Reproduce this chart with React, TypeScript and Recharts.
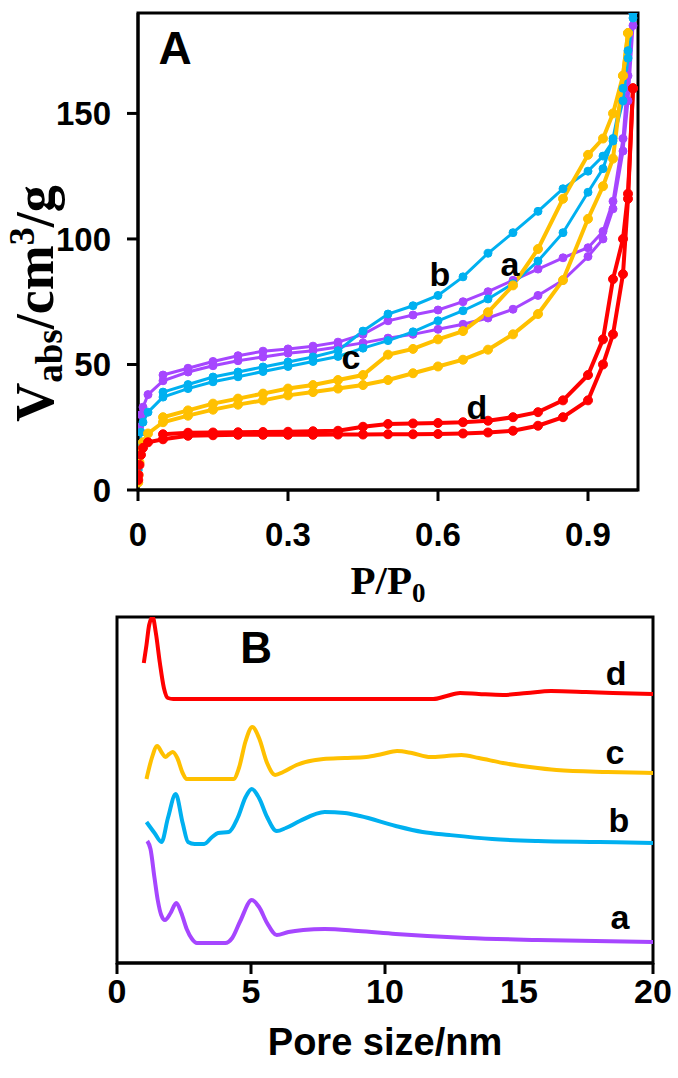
import React from "react";
import {
  LineChart,
  Line,
  XAxis,
  YAxis,
  ReferenceArea,
  ReferenceDot,
} from "recharts";

const SANS = "'Liberation Sans', Arial, sans-serif";
const SERIF = "'Liberation Serif', 'Times New Roman', serif";

const PURPLE = "#A646FF";
const BLUE = "#00B0F0";
const YELLOW = "#FFC000";
const RED = "#FF0000";

// ---- panel A: N2 isotherms (P/P0 vs adsorbed volume) ----
const adsP = [0.0005, 0.001, 0.003, 0.006, 0.01, 0.02, 0.05, 0.1, 0.15, 0.2, 0.25, 0.3, 0.35, 0.4, 0.45, 0.5, 0.55, 0.6, 0.65, 0.7, 0.75, 0.8, 0.85, 0.9, 0.93, 0.95, 0.97, 0.98, 0.99];
const desP = [0.99, 0.98, 0.97, 0.95, 0.93, 0.9, 0.85, 0.8, 0.75, 0.7, 0.65, 0.6, 0.55, 0.5, 0.45, 0.4, 0.35, 0.3, 0.25, 0.2, 0.15, 0.1, 0.05];

const aAds = [12, 18, 25, 30, 33, 38, 43.5, 47, 49.5, 51.5, 53, 54.5, 55.5, 57, 58.6, 60.5, 62, 64, 66, 68.5, 72, 77.5, 83.5, 93, 100, 112, 135, 155, 185];
const aDes = [190, 165, 140, 115, 103, 96.5, 92.5, 88, 83.5, 79, 75, 71.7, 69.7, 67.4, 62, 58.9, 57.3, 56.2, 55.3, 53.5, 51.2, 48.5, 45.8];

const bAds = [8, 12, 18, 23, 27, 31, 37, 40.4, 43.1, 45.1, 47.2, 49.2, 51.2, 53.2, 56.5, 59.5, 63, 67.4, 71.4, 76.1, 82.2, 91.2, 102.5, 118.6, 128, 140, 160, 175, 188];
const bDes = [190, 172, 155, 139, 133, 127, 120, 111, 102.5, 94.3, 84.9, 77.5, 73.4, 70.1, 63.3, 55.5, 53, 51, 49, 47, 45, 42, 39];

const cAds = [3, 6, 11, 16, 19, 22.5, 27, 29.6, 32, 34, 35.7, 37.7, 39, 40.4, 41.8, 43.8, 46.5, 49.2, 51.9, 55.9, 62, 70.1, 83.6, 108, 121, 132, 165, 182, null];
const cDes = [null, 182, 165, 150, 140, 133.5, 116, 96, 81.5, 70.8, 63.3, 60, 56.2, 53.9, 45.8, 43.8, 41.8, 40.4, 38.4, 36.4, 34.4, 31.7, 29];

const dAds = [4, 6, 10, 14, 16.8, 19, 20.2, 21.6, 21.8, 22, 22, 22, 22, 22.1, 22.1, 22.2, 22.2, 22.3, 22.5, 22.9, 23.6, 25.6, 29, 35.7, 50, 62, 86, 116, 160];
const dDes = [160, 118, 100, 84, 60, 45.8, 35.7, 31, 29, 27.6, 27, 26.7, 26.5, 26.3, 25.2, 23.6, 23.4, 23.2, 23.1, 23, 22.9, 22.8, 22.2];

const isoXTicks = [0, 0.3, 0.6, 0.9];
const isoYTicks = [0, 50, 100, 150];

// ---- panel B: pore size distributions (offset, arbitrary units) ----
const poreA = [1.13, 1.25, 1.4, 1.52, 1.65, 1.79, 2.0, 2.21, 2.4, 2.6, 2.8, 2.98, 3.5, 4.04, 4.3, 4.6, 5.03, 5.3, 5.6, 5.96, 6.4, 6.95, 7.75, 9.0, 10.4, 13.05, 15.7, 20];
const psdA = [122, 114, 85, 63, 48, 43, 50, 60, 50, 34, 24, 20, 20, 20, 25, 42, 63, 56, 40, 28, 31, 33, 34, 32, 29, 25, 23, 21];

const poreB = [1.1, 1.4, 1.66, 1.9, 2.19, 2.45, 2.65, 2.9, 3.25, 3.55, 3.77, 4.17, 4.5, 4.8, 5.03, 5.3, 5.6, 5.96, 6.3, 6.82, 7.75, 8.5, 9.07, 10.4, 11.4, 12.4, 14, 15.7, 18, 20];
const psdB = [141, 130, 121, 145, 169, 140, 121, 119, 119, 126, 130, 131, 145, 166, 174, 165, 146, 132, 135, 142, 151, 150, 147, 137, 131, 128, 124, 122, 121, 120];

const poreC = [1.1, 1.3, 1.5, 1.68, 1.8, 1.95, 2.08, 2.25, 2.45, 2.6, 3.5, 4.35, 4.55, 4.8, 5.05, 5.3, 5.6, 5.9, 6.2, 6.7, 7.7, 8.5, 9.3, 9.9, 10.45, 11.0, 11.7, 12.3, 12.85, 13.5, 14.4, 15.4, 16.4, 18.3, 20];
const psdC = [184, 205, 217, 210, 206, 209, 211, 205, 190, 184, 184, 184, 195, 222, 236, 225, 200, 188, 191, 198, 204, 205, 206, 209, 212, 210, 206, 207, 208, 205, 200, 196, 193, 191, 190];

const poreD = [1.0, 1.1, 1.2, 1.33, 1.45, 1.6, 1.75, 1.9, 2.1, 11.8, 12.3, 12.8, 13.5, 14.4, 15.3, 16.2, 17.5, 18.5, 20];
const psdD = [300, 318, 338, 346, 330, 300, 275, 265, 264, 264, 267, 270, 269, 268, 270, 272, 271, 270, 269];

const poreTicks = [0, 5, 10, 15, 20];

const iso = (ps: number[], vs: (number | null)[]) => ps.map((p, i) => ({ p, v: vs[i] }));
const psd = (xs: number[], vs: number[]) => xs.map((x, i) => ({ x, v: vs[i] }));

const tickStyle = { fill: "#000", fontSize: 33, fontWeight: 700, fontFamily: SANS };
const blackLine = { stroke: "#000", strokeWidth: 3 };

const isoSeries = [
  { key: "a-ads", data: iso(adsP, aAds), color: PURPLE, w: 3, r: 4 },
  { key: "a-des", data: iso(desP, aDes), color: PURPLE, w: 3, r: 4 },
  { key: "b-ads", data: iso(adsP, bAds), color: BLUE, w: 3, r: 4 },
  { key: "b-des", data: iso(desP, bDes), color: BLUE, w: 3, r: 4 },
  { key: "c-ads", data: iso(adsP, cAds), color: YELLOW, w: 4, r: 4.5 },
  { key: "c-des", data: iso(desP, cDes), color: YELLOW, w: 4, r: 4.5 },
  { key: "d-ads", data: iso(adsP, dAds), color: RED, w: 4, r: 4.5 },
  { key: "d-des", data: iso(desP, dDes), color: RED, w: 4, r: 4.5 },
];

const psdSeries = [
  { key: "a", data: psd(poreA, psdA), color: PURPLE },
  { key: "b", data: psd(poreB, psdB), color: BLUE },
  { key: "c", data: psd(poreC, psdC), color: YELLOW },
  { key: "d", data: psd(poreD, psdD), color: RED },
];

const tag = (value: string, size = 34) => ({
  value,
  position: "center" as const,
  fill: "#000",
  fontSize: size,
  fontWeight: 700,
  fontFamily: SANS,
});

function PP0Label(props: any) {
  const { x, y, width } = props.viewBox;
  return (
    <text x={x + width / 2} y={y + 104} textAnchor="middle" fontFamily={SERIF} fontWeight={700} fontSize={41} fill="#000">
      P/P
      <tspan fontSize={27} dy={8}>0</tspan>
    </text>
  );
}

function VabsLabel(props: any) {
  const { x, y, height } = props.viewBox;
  const cx = x + 15;
  const cy = y + height / 2 + 52;
  return (
    <text
      x={cx}
      y={cy}
      transform={`rotate(-90, ${cx}, ${cy})`}
      textAnchor="middle"
      fontFamily={SERIF}
      fontWeight={700}
      fontSize={54}
      fill="#000"
    >
      V
      <tspan fontSize={37} dy={9}>abs</tspan>
      <tspan dy={-9}>/cm</tspan>
      <tspan fontSize={36} dy={-19}>3</tspan>
      <tspan dy={19}>/g</tspan>
    </text>
  );
}

function PoreLabel(props: any) {
  const { x, y, width } = props.viewBox;
  return (
    <text x={x + width / 2} y={y + 92} textAnchor="middle" fontFamily={SANS} fontWeight={700} fontSize={38} fill="#000">
      Pore size/nm
    </text>
  );
}

export default function App() {
  return (
    <div style={{ position: "relative", width: 678, height: 1078, background: "#fff" }}>
      <style>{"body{margin:0}"}</style>
      <div style={{ position: "absolute", left: 0, top: 0 }}>
        <LineChart width={678} height={610} margin={{ top: 13, right: 40, left: 38, bottom: 60 }}>
          <XAxis
            type="number"
            dataKey="p"
            domain={[0, 1]}
            ticks={isoXTicks}
            allowDataOverflow
            height={60}
            tick={tickStyle}
            tickLine={blackLine}
            axisLine={blackLine}
            tickSize={11}
            tickMargin={22}
            label={PP0Label}
          />
          <YAxis
            type="number"
            domain={[0, 190]}
            ticks={isoYTicks}
            allowDataOverflow
            width={100}
            tick={tickStyle}
            tickLine={blackLine}
            axisLine={blackLine}
            tickSize={11}
            tickMargin={16}
            label={VabsLabel}
          />
          <ReferenceArea x1={0} x2={1} y1={0} y2={190} fill="none" stroke="#000" strokeWidth={3} />
          {isoSeries.map((s) => (
            <Line
              key={s.key}
              data={s.data}
              dataKey="v"
              type="linear"
              stroke={s.color}
              strokeWidth={s.w}
              dot={{ r: s.r, fill: s.color, stroke: s.color, strokeWidth: 1 }}
              activeDot={false}
              isAnimationActive={false}
            />
          ))}
          <ReferenceDot x={0.074} y={176} r={0} fill="none" stroke="none" label={tag("A", 46)} />
          <ReferenceDot x={0.604} y={86} r={0} fill="none" stroke="none" label={tag("b")} />
          <ReferenceDot x={0.744} y={90} r={0} fill="none" stroke="none" label={tag("a")} />
          <ReferenceDot x={0.426} y={53} r={0} fill="none" stroke="none" label={tag("c")} />
          <ReferenceDot x={0.678} y={33} r={0} fill="none" stroke="none" label={tag("d")} />
        </LineChart>
      </div>
      <div style={{ position: "absolute", left: 0, top: 600 }}>
        <LineChart width={678} height={478} margin={{ top: 17, right: 25, left: 117, bottom: 0 }}>
          <XAxis
            type="number"
            dataKey="x"
            domain={[0, 20]}
            ticks={poreTicks}
            allowDataOverflow
            height={115}
            tick={{ ...tickStyle, fontSize: 34 }}
            tickLine={blackLine}
            axisLine={blackLine}
            tickSize={11}
            tickMargin={5}
            label={PoreLabel}
          />
          <YAxis type="number" domain={[0, 346]} allowDataOverflow hide />
          <ReferenceArea x1={0} x2={20} y1={0} y2={346} fill="none" stroke="#000" strokeWidth={3} />
          {psdSeries.map((s) => (
            <Line
              key={s.key}
              data={s.data}
              dataKey="v"
              type="monotone"
              stroke={s.color}
              strokeWidth={4}
              dot={false}
              activeDot={false}
              isAnimationActive={false}
            />
          ))}
          <ReferenceDot x={5.19} y={316} r={0} fill="none" stroke="none" label={tag("B", 44)} />
          <ReferenceDot x={18.62} y={290} r={0} fill="none" stroke="none" label={tag("d")} />
          <ReferenceDot x={18.58} y={211} r={0} fill="none" stroke="none" label={tag("c")} />
          <ReferenceDot x={18.73} y={143} r={0} fill="none" stroke="none" label={tag("b")} />
          <ReferenceDot x={18.77} y={46} r={0} fill="none" stroke="none" label={tag("a")} />
        </LineChart>
      </div>
    </div>
  );
}
